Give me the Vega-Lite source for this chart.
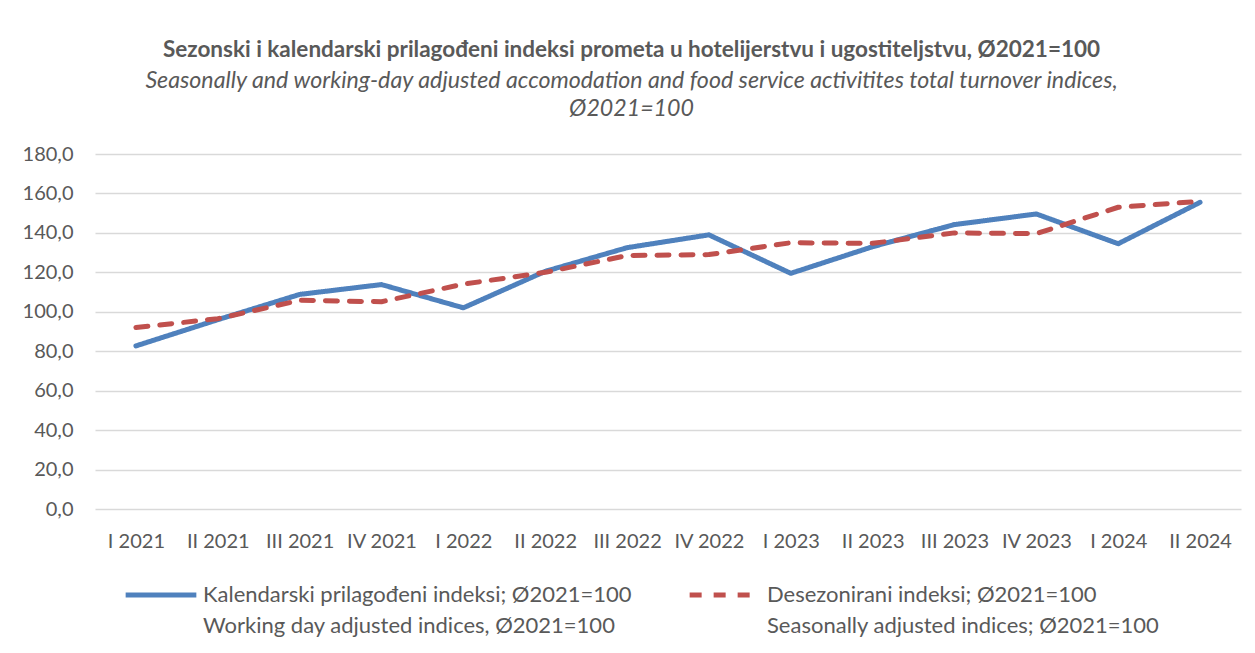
{
  "$schema": "https://vega.github.io/schema/vega-lite/v6.json",
  "width": 1255,
  "height": 653,
  "autosize": {"type": "fit", "contains": "padding"},
  "padding": {"left": 22, "top": 38, "right": 14, "bottom": 16},
  "background": "white",
  "title": {
    "text": "Sezonski i kalendarski prilagođeni indeksi prometa u hotelijerstvu i ugostiteljstvu, Ø2021=100",
    "subtitle": ["Seasonally and working-day adjusted accomodation and food service activitites total turnover indices,", "Ø2021=100"],
    "anchor": "middle",
    "frame": "bounds",
    "font": "Lato",
    "fontSize": 22.5,
    "fontWeight": "bold",
    "color": "#595959",
    "subtitleFont": "Lato",
    "subtitleFontSize": 23.2,
    "subtitleFontStyle": "italic",
    "subtitleColor": "#595959",
    "subtitlePadding": 9,
    "subtitleLineHeight": 27.5,
    "offset": 24
  },
  "data": {
    "values": [
      {"q": "I 2021", "s": "A", "v": 82.7},
      {"q": "II 2021", "s": "A", "v": 96.0},
      {"q": "III 2021", "s": "A", "v": 108.8},
      {"q": "IV 2021", "s": "A", "v": 113.8},
      {"q": "I 2022", "s": "A", "v": 102.0},
      {"q": "II 2022", "s": "A", "v": 120.5},
      {"q": "III 2022", "s": "A", "v": 132.5},
      {"q": "IV 2022", "s": "A", "v": 139.0},
      {"q": "I 2023", "s": "A", "v": 119.5},
      {"q": "II 2023", "s": "A", "v": 133.0},
      {"q": "III 2023", "s": "A", "v": 144.2},
      {"q": "IV 2023", "s": "A", "v": 149.6},
      {"q": "I 2024", "s": "A", "v": 134.5},
      {"q": "II 2024", "s": "A", "v": 155.5},
      {"q": "I 2021", "s": "B", "v": 92.0},
      {"q": "II 2021", "s": "B", "v": 96.5},
      {"q": "III 2021", "s": "B", "v": 105.8},
      {"q": "IV 2021", "s": "B", "v": 105.1},
      {"q": "I 2022", "s": "B", "v": 114.0},
      {"q": "II 2022", "s": "B", "v": 120.0},
      {"q": "III 2022", "s": "B", "v": 128.5},
      {"q": "IV 2022", "s": "B", "v": 129.0},
      {"q": "I 2023", "s": "B", "v": 135.0},
      {"q": "II 2023", "s": "B", "v": 134.7},
      {"q": "III 2023", "s": "B", "v": 140.0},
      {"q": "IV 2023", "s": "B", "v": 139.6},
      {"q": "I 2024", "s": "B", "v": 153.0},
      {"q": "II 2024", "s": "B", "v": 156.0}
    ]
  },
  "mark": {"type": "line", "strokeWidth": 5, "strokeCap": "round", "strokeJoin": "round"},
  "encoding": {
    "x": {
      "field": "q",
      "type": "nominal",
      "sort": null,
      "scale": {"type": "point", "padding": 0.5},
      "axis": {"title": null, "labelAngle": 0, "ticks": false, "domain": false, "labelPadding": 22, "labelFont": "Lato", "labelFontSize": 20, "labelColor": "#595959"}
    },
    "y": {
      "field": "v",
      "type": "quantitative",
      "scale": {"domain": [0, 180]},
      "axis": {"title": null, "values": [0, 20, 40, 60, 80, 100, 120, 140, 160, 180], "ticks": false, "domain": false, "labelPadding": 22, "labelFont": "Lato", "labelFontSize": 20, "labelColor": "#595959", "gridColor": "#d9d9d9", "gridWidth": 1.5, "labelExpr": "replace(format(datum.value, '.1f'), '.', ',')"}
    },
    "color": {
      "field": "s",
      "type": "nominal",
      "scale": {"domain": ["A", "B"], "range": ["#4F81BD", "#C0504D"]},
      "legend": {
        "title": null, "orient": "bottom", "direction": "horizontal", "columns": 2, "columnPadding": 27,
        "symbolType": "stroke", "symbolSize": 5000, "symbolStrokeWidth": 5, "symbolOffset": 28, "labelOffset": 4,
        "labelFont": "Lato", "labelFontSize": 22, "labelColor": "#595959", "labelBaseline": "middle", "labelLimit": 700, "offset": 6,
        "labelExpr": "datum.label == 'A' ? ['Kalendarski prilagođeni indeksi; Ø2021=100', 'Working day adjusted indices, Ø2021=100'] : ['Desezonirani indeksi; Ø2021=100', 'Seasonally adjusted indices; Ø2021=100']"
      }
    },
    "strokeDash": {
      "field": "s",
      "type": "nominal",
      "scale": {"domain": ["A", "B"], "range": [[1, 0], [12, 12]]},
      "legend": {
        "title": null, "orient": "bottom", "direction": "horizontal", "columns": 2, "columnPadding": 27,
        "symbolType": "stroke", "symbolSize": 5000, "symbolStrokeWidth": 5, "symbolOffset": 28, "labelOffset": 4,
        "labelFont": "Lato", "labelFontSize": 22, "labelColor": "#595959", "labelBaseline": "middle", "labelLimit": 700, "offset": 6,
        "labelExpr": "datum.label == 'A' ? ['Kalendarski prilagođeni indeksi; Ø2021=100', 'Working day adjusted indices, Ø2021=100'] : ['Desezonirani indeksi; Ø2021=100', 'Seasonally adjusted indices; Ø2021=100']"
      }
    }
  },
  "config": {
    "view": {"stroke": null},
    "style": {"guide-label": {"lineHeight": 31}},
    "legend": {"layout": {"bottom": {"anchor": "start"}}}
  }
}
